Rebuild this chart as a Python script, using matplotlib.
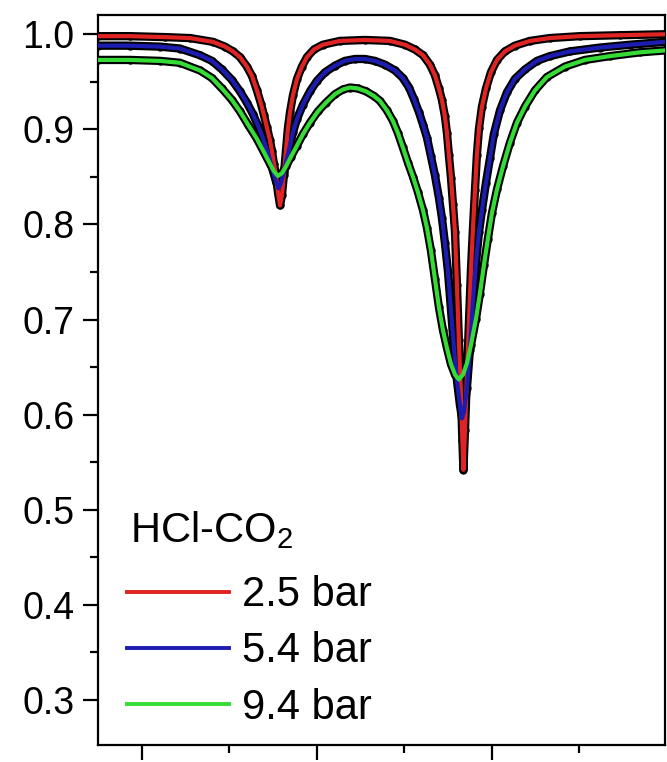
import numpy as np
import matplotlib
matplotlib.use("Agg")
import matplotlib.pyplot as plt
from matplotlib.ticker import MultipleLocator, NullFormatter, FormatStrFormatter

plt.rcParams['font.family'] = ['Liberation Sans', 'DejaVu Sans']
plt.rcParams['mathtext.fontset'] = 'custom'
plt.rcParams['mathtext.rm'] = 'Liberation Sans'

# relative frequency (arb. units, major tick every 1.0) and transmission
x_25 = [-0.251, -0.069, 0.131, 0.274, 0.406, 0.474, 0.520, 0.560, 0.600, 0.629,
        0.657, 0.680, 0.697, 0.714, 0.731, 0.743, 0.754, 0.766, 0.777, 0.789,
        0.800, 0.811, 0.823, 0.834, 0.846, 0.863, 0.886, 0.914, 0.943, 0.983,
        1.034, 1.131, 1.274, 1.417, 1.503, 1.560, 1.606, 1.646, 1.674, 1.697,
        1.714, 1.731, 1.743, 1.754, 1.766, 1.777, 1.789, 1.800, 1.811, 1.823,
        1.831, 1.837, 1.846, 1.857, 1.869, 1.880, 1.891, 1.903, 1.914, 1.926,
        1.943, 1.966, 1.994, 2.029, 2.074, 2.131, 2.217, 2.331, 2.503, 2.731,
        2.989]
t_25 = [0.998, 0.998, 0.997, 0.996, 0.992, 0.987, 0.982, 0.976, 0.966, 0.956,
        0.941, 0.927, 0.915, 0.902, 0.889, 0.877, 0.864, 0.851, 0.834, 0.820,
        0.831, 0.852, 0.878, 0.901, 0.918, 0.936, 0.953, 0.966, 0.976, 0.984,
        0.989, 0.993, 0.994, 0.993, 0.989, 0.984, 0.978, 0.968, 0.957, 0.943,
        0.931, 0.914, 0.896, 0.873, 0.849, 0.822, 0.792, 0.736, 0.678, 0.620,
        0.573, 0.542, 0.584, 0.641, 0.699, 0.752, 0.794, 0.836, 0.873, 0.901,
        0.924, 0.943, 0.960, 0.973, 0.982, 0.988, 0.993, 0.996, 0.998, 0.999,
        1.000]

x_54 = [-0.251, -0.069, 0.103, 0.217, 0.331, 0.400, 0.457, 0.514, 0.560, 0.600,
        0.634, 0.663, 0.691, 0.714, 0.731, 0.749, 0.766, 0.780, 0.794, 0.811,
        0.829, 0.846, 0.863, 0.886, 0.920, 0.960, 1.000, 1.046, 1.103, 1.160,
        1.217, 1.274, 1.331, 1.389, 1.446, 1.491, 1.526, 1.554, 1.583, 1.606,
        1.629, 1.651, 1.674, 1.697, 1.714, 1.731, 1.749, 1.766, 1.783, 1.800,
        1.817, 1.829, 1.840, 1.857, 1.874, 1.891, 1.909, 1.926, 1.943, 1.966,
        1.989, 2.011, 2.046, 2.086, 2.131, 2.189, 2.257, 2.331, 2.446, 2.617,
        2.789, 2.989]
t_54 = [0.988, 0.988, 0.987, 0.985, 0.978, 0.972, 0.963, 0.952, 0.940, 0.928,
        0.916, 0.904, 0.891, 0.878, 0.868, 0.856, 0.845, 0.838, 0.843, 0.855,
        0.870, 0.883, 0.897, 0.911, 0.926, 0.940, 0.951, 0.960, 0.967, 0.972,
        0.974, 0.974, 0.972, 0.968, 0.962, 0.954, 0.944, 0.932, 0.918, 0.905,
        0.891, 0.872, 0.852, 0.828, 0.807, 0.781, 0.750, 0.710, 0.670, 0.636,
        0.610, 0.596, 0.603, 0.628, 0.668, 0.718, 0.760, 0.792, 0.815, 0.844,
        0.870, 0.895, 0.920, 0.939, 0.953, 0.963, 0.972, 0.977, 0.982, 0.986,
        0.989, 0.992]

x_94 = [-0.251, -0.069, 0.103, 0.217, 0.331, 0.400, 0.457, 0.514, 0.560, 0.606,
        0.657, 0.697, 0.731, 0.754, 0.777, 0.800, 0.823, 0.851, 0.886, 0.920,
        0.960, 1.006, 1.051, 1.103, 1.149, 1.189, 1.234, 1.280, 1.326, 1.360,
        1.400, 1.434, 1.463, 1.491, 1.520, 1.549, 1.577, 1.606, 1.629, 1.651,
        1.674, 1.697, 1.720, 1.743, 1.766, 1.789, 1.811, 1.834, 1.857, 1.880,
        1.909, 1.931, 1.954, 1.977, 2.000, 2.029, 2.063, 2.103, 2.143, 2.189,
        2.246, 2.314, 2.417, 2.531, 2.674, 2.846, 2.989]
t_94 = [0.973, 0.973, 0.972, 0.970, 0.962, 0.954, 0.943, 0.931, 0.919, 0.905,
        0.890, 0.876, 0.864, 0.856, 0.851, 0.854, 0.861, 0.871, 0.883, 0.895,
        0.907, 0.919, 0.928, 0.937, 0.942, 0.944, 0.943, 0.940, 0.935, 0.930,
        0.920, 0.909, 0.896, 0.881, 0.865, 0.850, 0.834, 0.815, 0.796, 0.773,
        0.743, 0.713, 0.689, 0.670, 0.653, 0.642, 0.637, 0.642, 0.654, 0.673,
        0.701, 0.727, 0.757, 0.785, 0.812, 0.837, 0.861, 0.886, 0.907, 0.924,
        0.941, 0.955, 0.966, 0.973, 0.977, 0.981, 0.983]

labels = ["2.5 bar", "5.4 bar", "9.4 bar"]
colors = ["#e02424", "#1c1cb0", "#35dc35"]

fig = plt.figure(figsize=(6.67, 7.62), dpi=100)
ax = fig.add_axes([0.147, 0.022, 0.850, 0.958])

handles = []
for xs, ts, c, lab in zip([x_25, x_54, x_94], [t_25, t_54, t_94], colors, labels):
    ax.plot(xs, ts, color='k', lw=6.0, solid_joinstyle='round', zorder=2)
    ax.plot(xs, ts, 'o', color='k', ms=5, zorder=2)
    h, = ax.plot(xs, ts, color=c, lw=3.0, solid_joinstyle='round', zorder=3,
                 label=lab)
    handles.append(h)

ax.set_xlim(-0.251, 2.989)
ax.set_ylim(0.2524, 1.020)
ax.xaxis.set_major_locator(MultipleLocator(1.0))
ax.xaxis.set_minor_locator(MultipleLocator(0.5))
ax.xaxis.set_major_formatter(NullFormatter())
ax.yaxis.set_major_locator(MultipleLocator(0.1))
ax.yaxis.set_minor_locator(MultipleLocator(0.05))
ax.yaxis.set_major_formatter(FormatStrFormatter('%.1f'))

for s in ax.spines.values():
    s.set_linewidth(1.6)
ax.tick_params(which='major', direction='out', length=11, width=1.6,
               labelsize=27, pad=6, top=False, right=False)
ax.tick_params(which='minor', direction='out', length=5.5, width=1.6,
               top=False, right=False)

ax.text(0.056, 0.278, "HCl-CO$_\\mathrm{2}$", transform=ax.transAxes,
        fontsize=30, ha='left', va='baseline')
leg = ax.legend(handles=handles, loc='lower left',
                bbox_to_anchor=(0.051, 0.024), frameon=False, fontsize=30,
                handlelength=2.45, handletextpad=0.3, labelspacing=0.39,
                borderpad=0, borderaxespad=0)
for line in leg.get_lines():
    line.set_linewidth(2.8)

fig.savefig("out.png", dpi=100)
